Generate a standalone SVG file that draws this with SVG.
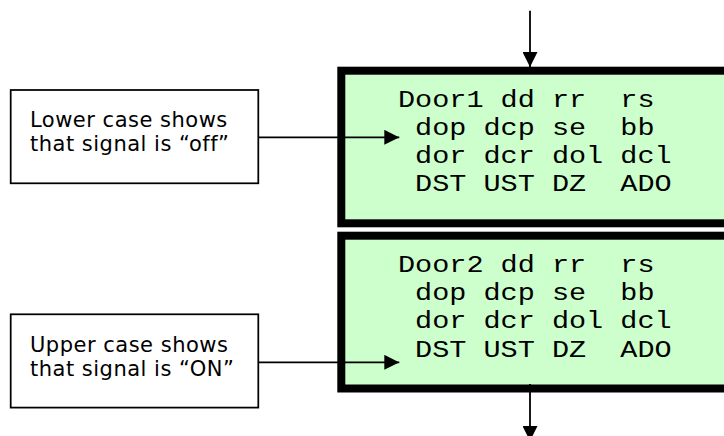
<svg xmlns="http://www.w3.org/2000/svg" width="724" height="436" viewBox="0 0 724 436">
  <style>
    .lcd { fill: #CCFFCC; stroke: #000000; stroke-width: 8; }
    .note { fill: #FFFFFF; stroke: #000000; stroke-width: 1.75; }
    .mono { font-family: "Liberation Mono", "DejaVu Sans Mono", monospace; font-size: 23px; fill: #000000; }
    .label { font-family: "DejaVu Sans", "Liberation Sans", sans-serif; font-size: 21px; letter-spacing: 0.5px; fill: #000000; }
    .conn { stroke: #000000; stroke-width: 1.8; fill: none; }
  </style>
  <defs>
    <marker id="arrow" markerUnits="userSpaceOnUse" markerWidth="15" markerHeight="15" refX="15" refY="7.5" orient="auto">
      <path d="M0,0 L15,7.5 L0,15 Z" fill="#000000"/>
    </marker>
  </defs>
  <rect x="0" y="0" width="724" height="436" fill="#FFFFFF"/>

  <g id="lcd1">
    <rect class="lcd" x="341.3" y="70.7" width="400" height="152.6"/>
    <text class="mono" x="398" y="106.7" textLength="85.5" lengthAdjust="spacingAndGlyphs">Door1</text>
    <text class="mono" x="500.6" y="106.7" textLength="34.2" lengthAdjust="spacingAndGlyphs">dd</text>
    <text class="mono" x="551.9" y="106.7" textLength="34.2" lengthAdjust="spacingAndGlyphs">rr</text>
    <text class="mono" x="620.3" y="106.7" textLength="34.2" lengthAdjust="spacingAndGlyphs">rs</text>
    <text class="mono" x="415.1" y="134.8" textLength="51.3" lengthAdjust="spacingAndGlyphs">dop</text>
    <text class="mono" x="483.5" y="134.8" textLength="51.3" lengthAdjust="spacingAndGlyphs">dcp</text>
    <text class="mono" x="551.9" y="134.8" textLength="34.2" lengthAdjust="spacingAndGlyphs">se</text>
    <text class="mono" x="620.3" y="134.8" textLength="34.2" lengthAdjust="spacingAndGlyphs">bb</text>
    <text class="mono" x="415.1" y="162.9" textLength="51.3" lengthAdjust="spacingAndGlyphs">dor</text>
    <text class="mono" x="483.5" y="162.9" textLength="51.3" lengthAdjust="spacingAndGlyphs">dcr</text>
    <text class="mono" x="551.9" y="162.9" textLength="51.3" lengthAdjust="spacingAndGlyphs">dol</text>
    <text class="mono" x="620.3" y="162.9" textLength="51.3" lengthAdjust="spacingAndGlyphs">dcl</text>
    <text class="mono" x="415.1" y="191" textLength="51.3" lengthAdjust="spacingAndGlyphs">DST</text>
    <text class="mono" x="483.5" y="191" textLength="51.3" lengthAdjust="spacingAndGlyphs">UST</text>
    <text class="mono" x="551.9" y="191" textLength="34.2" lengthAdjust="spacingAndGlyphs">DZ</text>
    <text class="mono" x="620.3" y="191" textLength="51.3" lengthAdjust="spacingAndGlyphs">ADO</text>
  </g>

  <g id="lcd2">
    <rect class="lcd" x="341.3" y="235.7" width="400" height="152.8"/>
    <text class="mono" x="398" y="271.7" textLength="85.5" lengthAdjust="spacingAndGlyphs">Door2</text>
    <text class="mono" x="500.6" y="271.7" textLength="34.2" lengthAdjust="spacingAndGlyphs">dd</text>
    <text class="mono" x="551.9" y="271.7" textLength="34.2" lengthAdjust="spacingAndGlyphs">rr</text>
    <text class="mono" x="620.3" y="271.7" textLength="34.2" lengthAdjust="spacingAndGlyphs">rs</text>
    <text class="mono" x="415.1" y="299.8" textLength="51.3" lengthAdjust="spacingAndGlyphs">dop</text>
    <text class="mono" x="483.5" y="299.8" textLength="51.3" lengthAdjust="spacingAndGlyphs">dcp</text>
    <text class="mono" x="551.9" y="299.8" textLength="34.2" lengthAdjust="spacingAndGlyphs">se</text>
    <text class="mono" x="620.3" y="299.8" textLength="34.2" lengthAdjust="spacingAndGlyphs">bb</text>
    <text class="mono" x="415.1" y="327.9" textLength="51.3" lengthAdjust="spacingAndGlyphs">dor</text>
    <text class="mono" x="483.5" y="327.9" textLength="51.3" lengthAdjust="spacingAndGlyphs">dcr</text>
    <text class="mono" x="551.9" y="327.9" textLength="51.3" lengthAdjust="spacingAndGlyphs">dol</text>
    <text class="mono" x="620.3" y="327.9" textLength="51.3" lengthAdjust="spacingAndGlyphs">dcl</text>
    <text class="mono" x="415.1" y="356.5" textLength="51.3" lengthAdjust="spacingAndGlyphs">DST</text>
    <text class="mono" x="483.5" y="356.5" textLength="51.3" lengthAdjust="spacingAndGlyphs">UST</text>
    <text class="mono" x="551.9" y="356.5" textLength="34.2" lengthAdjust="spacingAndGlyphs">DZ</text>
    <text class="mono" x="620.3" y="356.5" textLength="51.3" lengthAdjust="spacingAndGlyphs">ADO</text>
  </g>

  <g id="note-lower">
    <rect class="note" x="10.7" y="90" width="247.6" height="93.3"/>
    <text class="label" x="30" y="127.3">Lower case shows</text>
    <text class="label" x="30" y="151">that signal is “off”</text>
  </g>

  <g id="note-upper">
    <rect class="note" x="10.7" y="314.3" width="247.6" height="93.3"/>
    <text class="label" x="30" y="351.7">Upper case shows</text>
    <text class="label" x="30" y="376">that signal is “ON”</text>
  </g>

  <g id="connectors">
    <line class="conn" x1="530" y1="10.7" x2="530" y2="67" marker-end="url(#arrow)"/>
    <line class="conn" x1="258.3" y1="137.3" x2="399.3" y2="137.3" marker-end="url(#arrow)"/>
    <line class="conn" x1="258.3" y1="362.3" x2="399.3" y2="362.3" marker-end="url(#arrow)"/>
    <line class="conn" x1="530" y1="384" x2="530" y2="441" marker-end="url(#arrow)"/>
  </g>
</svg>
